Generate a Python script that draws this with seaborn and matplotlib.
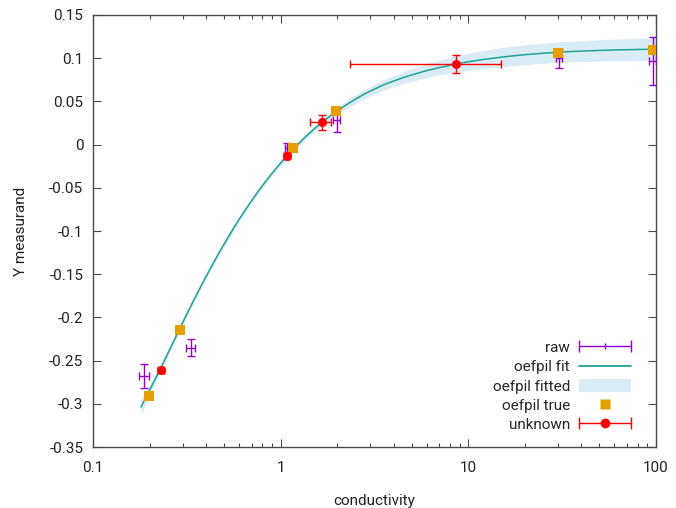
import numpy as np
import pandas as pd
import matplotlib
matplotlib.use("Agg")
import matplotlib.pyplot as plt
import seaborn as sns
from matplotlib.lines import Line2D
from matplotlib.patches import Patch
from matplotlib.legend_handler import HandlerLine2D, HandlerTuple
from matplotlib.ticker import FixedLocator, FixedFormatter, LogLocator, NullFormatter

# raw calibration measurements with uncertainties
raw_x = [0.1875, 0.331, 1.077, 1.99, 30.5, 95.9]
raw_y = [-0.268, -0.235, -0.004, 0.0285, 0.1002, 0.0967]
raw_xerr = [0.011, 0.018, 0.02, 0.08, 1.2, 4.5]
raw_yerr = [0.014, 0.0098, 0.006, 0.014, 0.011, 0.0276]

# fitted "true" positions of the calibration points
true_x = [0.198, 0.29, 1.167, 1.97, 30.0, 96.6]
true_y = [-0.291, -0.214, -0.0043, 0.0389, 0.1057, 0.1095]

# unknown samples evaluated on the calibration curve
unk_x = [0.2296, 1.077, 1.654, 8.59]
unk_y = [-0.261, -0.0132, 0.0258, 0.0933]
unk_xerr_lo = [0.008, 0.03, 0.224, 6.25]
unk_xerr_hi = [0.008, 0.03, 0.192, 6.31]
unk_yerr = [0.003, 0.003, 0.009, 0.010]

# calibration curve and the half width of its uncertainty band
fit_x = [0.18, 0.19, 0.2, 0.21, 0.22, 0.23, 0.245, 0.26, 0.28, 0.3, 0.325,
         0.35, 0.375, 0.4, 0.45, 0.5, 0.55, 0.6, 0.65, 0.7, 0.775, 0.85,
         0.925, 1.0, 1.1, 1.2, 1.35, 1.5, 1.75, 2.0, 2.25, 2.5, 2.75, 3.0,
         3.5, 4.0, 4.5, 5.0, 6.0, 7.0, 8.5, 10.0, 12.0, 15.0, 18.0, 22.0,
         27.0, 33.0, 40.0, 50.0, 62.0, 77.0, 100.0]
fit_y = [-0.3038, -0.2938, -0.2843, -0.2753, -0.2667, -0.2583, -0.2459,
         -0.2343, -0.2196, -0.2062, -0.1908, -0.1770, -0.1643, -0.1527,
         -0.1323, -0.1149, -0.0998, -0.0866, -0.0751, -0.0648, -0.0514,
         -0.0399, -0.0300, -0.0213, -0.0111, -0.0024, 0.0086, 0.0177,
         0.0297, 0.0390, 0.0464, 0.0525, 0.0577, 0.0619, 0.0687, 0.0736,
         0.0775, 0.0807, 0.0856, 0.0891, 0.0930, 0.0959, 0.0985, 0.1012,
         0.1031, 0.1048, 0.1062, 0.1074, 0.1082, 0.1090, 0.1096, 0.1100,
         0.1105]
fit_hw = [0.008, 0.007, 0.006, 0.0055, 0.005, 0.0048, 0.0045, 0.004, 0.0038,
          0.0035, 0.003, 0.003, 0.003, 0.003, 0.003, 0.003, 0.003, 0.003,
          0.003, 0.003, 0.003, 0.003, 0.003, 0.003, 0.003, 0.003, 0.0033,
          0.0035, 0.0038, 0.004, 0.0045, 0.005, 0.0052, 0.0055, 0.006,
          0.0065, 0.007, 0.0075, 0.008, 0.0085, 0.0095, 0.010, 0.0105,
          0.011, 0.0113, 0.0116, 0.0118, 0.012, 0.0122, 0.0124, 0.0126,
          0.0128, 0.013]

y_ticks = [-0.35, -0.3, -0.25, -0.2, -0.15, -0.1, -0.05, 0, 0.05, 0.1, 0.15]
y_tick_labels = ["-0.35", "-0.3", "-0.25", "-0.2", "-0.15", "-0.1", "-0.05",
                 "0", "0.05", "0.1", "0.15"]
x_ticks = [0.1, 1, 10, 100]
x_tick_labels = ["0.1", "1", "10", "100"]

C_RAW = "#9400d3"
C_FIT = "#1fa392"
C_BAND = "#d9ecf6"
C_TRUE = "#e69f00"
C_UNK = "#ff0000"
C_AXIS = "#4a4a4a"

sns.set_theme(style="ticks")
plt.rcParams["font.family"] = ["Roboto", "DejaVu Sans"]
plt.rcParams["font.size"] = 11

fit_df = pd.DataFrame({"x": fit_x, "y": fit_y,
                       "lo": np.subtract(fit_y, fit_hw),
                       "hi": np.add(fit_y, fit_hw)})
true_df = pd.DataFrame({"x": true_x, "y": true_y})

fig = plt.figure(figsize=(6.76, 5.08), dpi=100)
ax = fig.add_axes([0.1376, 0.12, 0.9704 - 0.1376, 0.9705 - 0.12])
ax.set_xscale("log")

ax.fill_between(fit_df["x"], fit_df["lo"], fit_df["hi"], color=C_BAND,
                lw=0, zorder=1)
sns.lineplot(data=fit_df, x="x", y="y", ax=ax, color=C_FIT, lw=1.1,
             zorder=2, legend=False)

ax.errorbar(raw_x, raw_y, xerr=raw_xerr, yerr=raw_yerr, fmt="none",
            ecolor=C_RAW, elinewidth=1.0, capsize=3, capthick=1.0, zorder=3)

sns.scatterplot(data=true_df, x="x", y="y", ax=ax, marker="s", s=52,
                color=C_TRUE, edgecolor="none", zorder=4, legend=False)

ax.errorbar(unk_x, unk_y, xerr=[unk_xerr_lo, unk_xerr_hi], yerr=unk_yerr,
            fmt="o", color=C_UNK, ms=5.5, mec=C_UNK, elinewidth=1.0,
            capsize=3, capthick=1.0, zorder=5)

ax.set_xlim(0.1, 100)
ax.set_ylim(-0.35, 0.15)
ax.xaxis.set_major_locator(FixedLocator(x_ticks))
ax.xaxis.set_major_formatter(FixedFormatter(x_tick_labels))
ax.xaxis.set_minor_locator(LogLocator(base=10, subs=np.arange(2, 10)))
ax.xaxis.set_minor_formatter(NullFormatter())
ax.yaxis.set_major_locator(FixedLocator(y_ticks))
ax.yaxis.set_major_formatter(FixedFormatter(y_tick_labels))

ax.tick_params(which="both", direction="in", top=True, right=True,
               color=C_AXIS, width=0.8)
ax.tick_params(which="major", length=5.5, labelsize=11,
               labelcolor="#222222")
ax.tick_params(axis="y", which="major", pad=7)
ax.tick_params(axis="x", which="major", pad=10)
ax.tick_params(which="minor", length=3)
for sp in ax.spines.values():
    sp.set_color(C_AXIS)
    sp.set_linewidth(1.0)

ax.set_xlabel("conductivity", fontsize=11, labelpad=14, color="#222222")
ax.set_ylabel("Y measurand", fontsize=11, labelpad=15, color="#222222")

# legend handles in the style of the plotted marks
h_raw_bar = Line2D([], [], color=C_RAW, lw=1.0, marker="|", ms=8, mew=1.0)
h_raw_mid = Line2D([], [], color=C_RAW, lw=0, marker="|", ms=5, mew=1.0)
h_fit = Line2D([], [], color=C_FIT, lw=1.3)
h_band = Patch(facecolor=C_BAND, edgecolor="none")
h_true = Line2D([], [], color=C_TRUE, lw=0, marker="s", ms=6.5, mec="none")
h_unk_bar = Line2D([], [], color=C_UNK, lw=1.0, marker="|", ms=8, mew=1.0)
h_unk_mid = Line2D([], [], color=C_UNK, lw=0, marker="o", ms=6)

hmap = {
    h_raw_bar: HandlerLine2D(numpoints=2, marker_pad=0),
    h_unk_bar: HandlerLine2D(numpoints=2, marker_pad=0),
    h_raw_mid: HandlerLine2D(numpoints=1),
    h_unk_mid: HandlerLine2D(numpoints=1),
    tuple: HandlerTuple(ndivide=1, pad=0),
}

ax.legend([(h_raw_bar, h_raw_mid), h_fit, h_band, h_true,
           (h_unk_bar, h_unk_mid)],
          ["raw", "oefpil fit", "oefpil fitted", "oefpil true", "unknown"],
          handler_map=hmap, loc="lower right", bbox_to_anchor=(0.975, 0.01),
          frameon=False, markerfirst=False, handlelength=3.4,
          handleheight=0.9, handletextpad=0.6, labelspacing=0.3,
          borderpad=0.2, fontsize=11, numpoints=1)

fig.savefig("out.png", dpi=100)
